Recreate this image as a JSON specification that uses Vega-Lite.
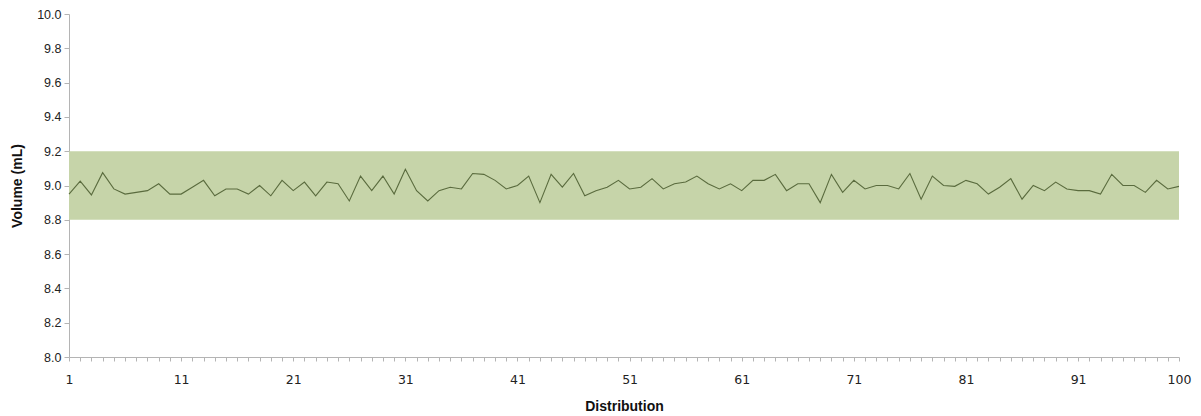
{
  "$schema": "https://vega.github.io/schema/vega-lite/v6.json",
  "autosize": "none",
  "width": 1110,
  "height": 343,
  "padding": {"left": 69, "top": 14, "right": 22, "bottom": 59},
  "background": "white",
  "config": {"view": {"stroke": null}, "axis": {"labelOverlap": false, "labelFlush": false}},
  "datasets": {
    "band": [{"x1": 1, "x2": 100, "lo": 8.8, "hi": 9.2}],
    "vol": [
      {"d": 1, "v": 8.95}, {"d": 2, "v": 9.025}, {"d": 3, "v": 8.945}, {"d": 4, "v": 9.075}, {"d": 5, "v": 8.98},
      {"d": 6, "v": 8.95}, {"d": 7, "v": 8.96}, {"d": 8, "v": 8.97}, {"d": 9, "v": 9.01}, {"d": 10, "v": 8.95},
      {"d": 11, "v": 8.95}, {"d": 12, "v": 8.99}, {"d": 13, "v": 9.03}, {"d": 14, "v": 8.94}, {"d": 15, "v": 8.98},
      {"d": 16, "v": 8.98}, {"d": 17, "v": 8.95}, {"d": 18, "v": 9.0}, {"d": 19, "v": 8.94}, {"d": 20, "v": 9.03},
      {"d": 21, "v": 8.97}, {"d": 22, "v": 9.02}, {"d": 23, "v": 8.94}, {"d": 24, "v": 9.02}, {"d": 25, "v": 9.01},
      {"d": 26, "v": 8.91}, {"d": 27, "v": 9.055}, {"d": 28, "v": 8.97}, {"d": 29, "v": 9.055}, {"d": 30, "v": 8.95},
      {"d": 31, "v": 9.095}, {"d": 32, "v": 8.97}, {"d": 33, "v": 8.91}, {"d": 34, "v": 8.97}, {"d": 35, "v": 8.99},
      {"d": 36, "v": 8.98}, {"d": 37, "v": 9.07}, {"d": 38, "v": 9.065}, {"d": 39, "v": 9.03}, {"d": 40, "v": 8.98},
      {"d": 41, "v": 9.0}, {"d": 42, "v": 9.055}, {"d": 43, "v": 8.9}, {"d": 44, "v": 9.065}, {"d": 45, "v": 8.99},
      {"d": 46, "v": 9.07}, {"d": 47, "v": 8.94}, {"d": 48, "v": 8.97}, {"d": 49, "v": 8.99}, {"d": 50, "v": 9.03},
      {"d": 51, "v": 8.98}, {"d": 52, "v": 8.99}, {"d": 53, "v": 9.04}, {"d": 54, "v": 8.98}, {"d": 55, "v": 9.01},
      {"d": 56, "v": 9.02}, {"d": 57, "v": 9.055}, {"d": 58, "v": 9.01}, {"d": 59, "v": 8.98}, {"d": 60, "v": 9.01},
      {"d": 61, "v": 8.97}, {"d": 62, "v": 9.03}, {"d": 63, "v": 9.03}, {"d": 64, "v": 9.065}, {"d": 65, "v": 8.97},
      {"d": 66, "v": 9.01}, {"d": 67, "v": 9.01}, {"d": 68, "v": 8.9}, {"d": 69, "v": 9.065}, {"d": 70, "v": 8.96},
      {"d": 71, "v": 9.03}, {"d": 72, "v": 8.98}, {"d": 73, "v": 9.0}, {"d": 74, "v": 9.0}, {"d": 75, "v": 8.98},
      {"d": 76, "v": 9.07}, {"d": 77, "v": 8.92}, {"d": 78, "v": 9.055}, {"d": 79, "v": 9.0}, {"d": 80, "v": 8.995},
      {"d": 81, "v": 9.03}, {"d": 82, "v": 9.01}, {"d": 83, "v": 8.95}, {"d": 84, "v": 8.99}, {"d": 85, "v": 9.04},
      {"d": 86, "v": 8.92}, {"d": 87, "v": 9.0}, {"d": 88, "v": 8.97}, {"d": 89, "v": 9.02}, {"d": 90, "v": 8.98},
      {"d": 91, "v": 8.97}, {"d": 92, "v": 8.97}, {"d": 93, "v": 8.95}, {"d": 94, "v": 9.065}, {"d": 95, "v": 9.0},
      {"d": 96, "v": 9.0}, {"d": 97, "v": 8.96}, {"d": 98, "v": 9.03}, {"d": 99, "v": 8.98}, {"d": 100, "v": 8.995}
    ]
  },
  "layer": [
    {
      "data": {"name": "band"},
      "mark": {"type": "rect", "color": "#c6d4a9", "opacity": 1},
      "encoding": {
        "x": {
          "field": "x1", "type": "quantitative",
          "scale": {"domain": [1, 100], "nice": false, "zero": false},
          "axis": {
            "orient": "bottom", "values": [1,2,3,4,5,6,7,8,9,10,11,12,13,14,15,16,17,18,19,20,21,22,23,24,25,26,27,28,29,30,31,32,33,34,35,36,37,38,39,40,41,42,43,44,45,46,47,48,49,50,51,52,53,54,55,56,57,58,59,60,61,62,63,64,65,66,67,68,69,70,71,72,73,74,75,76,77,78,79,80,81,82,83,84,85,86,87,88,89,90,91,92,93,94,95,96,97,98,99,100],
            "labels": false, "title": null, "grid": false,
            "domainColor": "#b4b4b4", "tickColor": "#b4b4b4", "tickSize": 4, "domainWidth": 1
          }
        },
        "x2": {"field": "x2"},
        "y": {
          "field": "lo", "type": "quantitative",
          "scale": {"domain": [8, 10], "nice": false, "zero": false},
          "axis": {
            "values": [8, 8.2, 8.4, 8.6, 8.8, 9, 9.2, 9.4, 9.6, 9.8, 10],
            "format": ".1f", "grid": false, "title": "Volume (mL)",
            "labelOverlap": false, "labelFlush": false,
            "titleFont": "Liberation Sans", "titleFontSize": 14, "titleFontWeight": "bold", "titleColor": "#111",
            "titlePadding": 12,
            "labelFont": "Liberation Sans", "labelFontSize": 12.5, "labelColor": "#222", "labelPadding": 3,
            "domainColor": "#b4b4b4", "tickColor": "#b4b4b4", "tickSize": 5
          }
        },
        "y2": {"field": "hi"}
      }
    },
    {
      "data": {"name": "vol"},
      "mark": {"type": "line", "color": "#5a6b3e", "strokeWidth": 1.1},
      "encoding": {
        "x": {
          "field": "d", "type": "quantitative",
          "scale": {"domain": [1, 100], "nice": false, "zero": false},
          "axis": {
            "orient": "bottom", "values": [1, 11, 21, 31, 41, 51, 61, 71, 81, 91, 100],
            "title": "Distribution", "grid": false, "domain": false, "ticks": false,
            "labelOverlap": false, "labelFlush": false,
            "labelFont": "DejaVu Sans", "labelFontSize": 12.5, "labelColor": "#222", "labelPadding": 16,
            "titleFont": "Liberation Sans", "titleFontSize": 14, "titleFontWeight": "bold", "titleColor": "#111",
            "titlePadding": 14
          }
        },
        "y": {
          "field": "v", "type": "quantitative",
          "scale": {"domain": [8, 10], "nice": false, "zero": false},
          "axis": {
            "values": [8, 8.2, 8.4, 8.6, 8.8, 9, 9.2, 9.4, 9.6, 9.8, 10],
            "format": ".1f", "grid": false, "title": "Volume (mL)",
            "labelOverlap": false, "labelFlush": false,
            "titleFont": "Liberation Sans", "titleFontSize": 14, "titleFontWeight": "bold", "titleColor": "#111",
            "titlePadding": 12,
            "labelFont": "Liberation Sans", "labelFontSize": 12.5, "labelColor": "#222", "labelPadding": 3,
            "domainColor": "#b4b4b4", "tickColor": "#b4b4b4", "tickSize": 5
          }
        }
      }
    }
  ],
  "resolve": {"axis": {"x": "independent"}}
}
